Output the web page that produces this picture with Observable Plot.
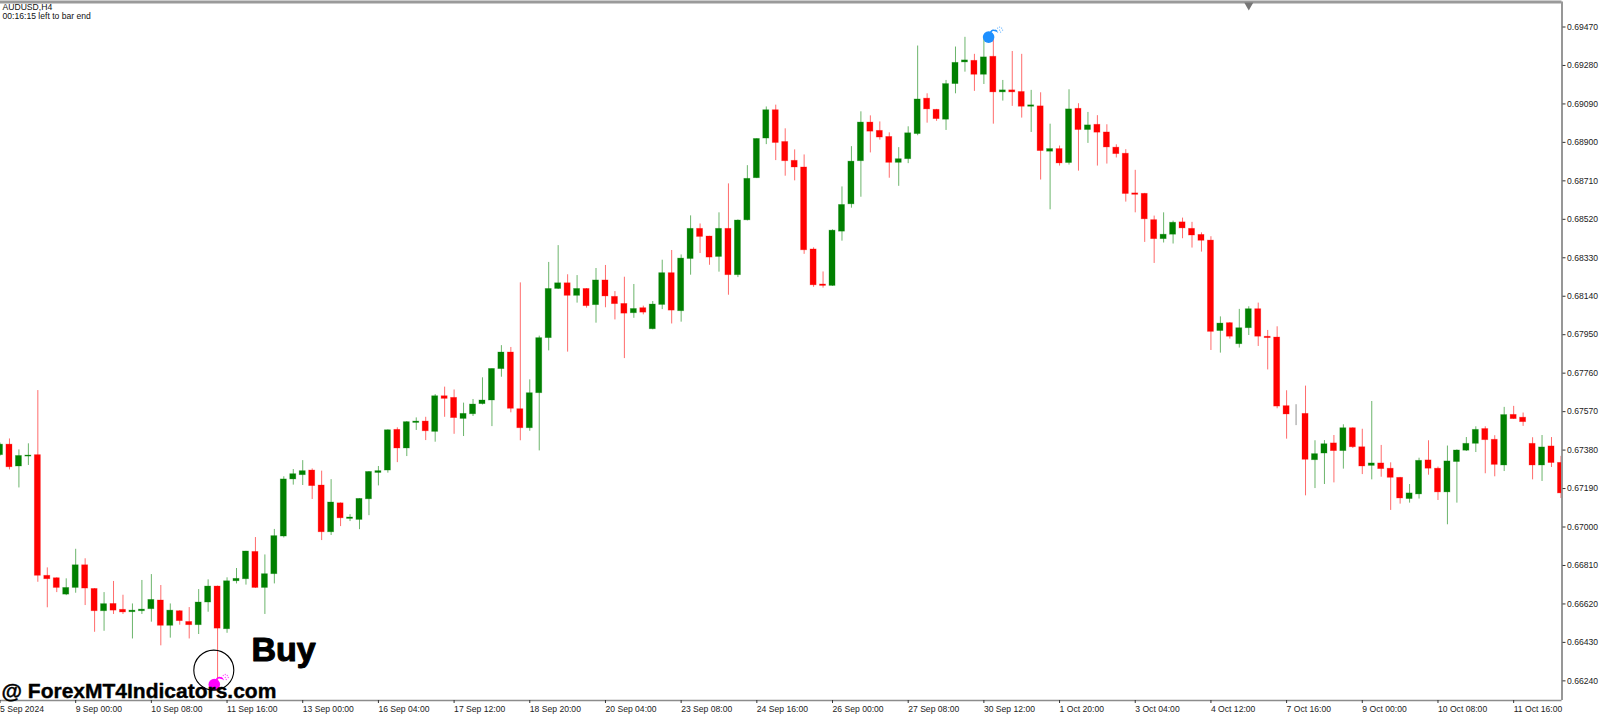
<!DOCTYPE html>
<html>
<head>
<meta charset="utf-8">
<script src="https://cdn.jsdelivr.net/npm/d3@7"></script>
<script src="https://cdn.jsdelivr.net/npm/@observablehq/plot@0.6"></script>
<style>html,body{margin:0;padding:0;background:#fff;overflow:hidden}svg{display:block}</style>
</head>
<body>
<div id="chart"></div>
<script>
// AUDUSD H4 candles, prices in points (1e-5)
const openPts = [67355,67407,67299,67348,67355,66759,66747,66666,66699,66811,
66694,66584,66620,66591,66579,66584,66594,66637,66512,66584,
66531,66515,66627,66706,66495,66732,66742,66877,66699,66767,
66953,67235,67256,67279,67205,66974,67117,67040,67035,67137,
67267,67279,67480,67388,67514,67521,67470,67646,67638,67534,
67557,67607,67625,67780,67862,67582,67488,67661,67933,68176,
68204,68142,68176,68096,68218,68137,68102,68056,68081,67977,
68097,68254,68066,68324,68473,68435,68334,68473,68244,68515,
68723,68919,69059,68902,68809,68776,68371,68198,68191,68459,
68594,68807,68998,68957,68927,68799,68817,68941,69116,69061,
69012,69188,69295,69303,69234,69323,69147,69157,69149,69076,
69078,68854,68867,68798,69066,68961,68987,68949,68874,68844,
68648,68646,68516,68422,68444,68505,68473,68443,68415,67968,
68007,67903,67982,68076,67940,67936,67597,67557,67559,67330,
67363,67413,67375,67488,67394,67302,67314,67288,67243,67138,
67161,67329,67288,67171,67321,67377,67411,67484,67431,67304,
67554,67540,67411,67304,67398,67317];
const closePts = [67407,67295,67351,67353,66759,66742,66699,66699,66811,66696,
66584,66619,66587,66578,66587,66592,66640,66512,66587,66535,
66515,66627,66706,66498,66732,66744,66879,66699,66767,66955,
67235,67261,67276,67202,66974,67121,67043,67047,67139,67272,
67276,67478,67388,67518,67521,67473,67646,67633,67538,67559,
67605,67625,67781,67862,67584,67488,67661,67933,68176,68204,
68142,68176,68091,68218,68139,68101,68054,68077,68059,68099,
68254,68069,68326,68473,68433,68331,68473,68244,68514,68720,
68917,69059,68897,68807,68776,68367,68194,68191,68464,68591,
68805,68998,68953,68924,68799,68817,68945,69112,69063,69015,
69188,69293,69305,69234,69320,69147,69157,69147,69076,69083,
68857,68867,68796,69063,68961,68984,68948,68875,68842,68645,
68641,68520,68422,68444,68503,68475,68440,68414,67964,68005,
67940,67982,68076,67940,67933,67595,67556,67557,67332,67360,
67409,67375,67488,67394,67299,67314,67286,67243,67141,67166,
67327,67288,67171,67324,67378,67411,67480,67429,67307,67553,
67533,67518,67304,67393,67316,67166];
const highPts = [67415,67435,67381,67411,67674,66798,66749,66744,66890,66843,
66696,66676,66731,66663,66620,66736,66765,66711,66620,66587,
66602,66691,66739,66708,66749,66795,66880,66948,66862,66988,
67248,67284,67328,67287,67276,67234,67119,67061,67140,67274,
67299,67480,67490,67521,67539,67542,67654,67691,67677,67612,
67630,67737,67781,67896,67887,68206,67727,67943,68307,68390,
68246,68242,68178,68277,68292,68163,68234,68198,68091,68114,
68318,68366,68344,68537,68497,68436,68552,68695,68517,68785,
68918,69075,69084,68967,68863,68838,68379,68260,68468,68680,
68879,69051,69031,69001,68947,68874,68977,69376,69140,69063,
69206,69371,69419,69335,69412,69425,69206,69349,69335,69157,
69145,68990,68882,69160,69091,69048,69032,68987,68888,68864,
68762,68648,68536,68552,68511,68526,68505,68453,68434,68038,
68010,68075,68088,68106,67971,67989,67673,67604,67696,67426,
67427,67452,67505,67490,67483,67620,67403,67317,67245,67210,
67340,67426,67296,67400,67381,67442,67495,67495,67451,67591,
67596,67563,67441,67452,67442,67349];
const lowPts = [67350,67282,67193,67304,66727,66601,66676,66661,66673,66612,
66480,66485,66568,66568,66447,66568,66530,66413,66451,66515,
66447,66469,66579,66233,66475,66719,66713,66697,66568,66719,
66946,67207,67205,67136,66933,66958,67002,67027,66987,67056,
67203,67266,67318,67348,67477,67427,67419,67542,67458,67447,
67546,67603,67496,67740,67564,67426,67473,67376,67870,68173,
67864,68106,68081,68007,68083,68023,67832,68031,68048,67974,
68074,68003,68012,68244,68351,68293,68259,68145,68232,68512,
68721,68889,68810,68733,68710,68347,68184,68180,68189,68412,
68575,68629,68848,68911,68723,68683,68795,68933,68995,69004,
68959,69140,69247,69152,69186,68990,69104,69078,69020,68949,
68714,68567,68783,68788,68758,68895,68783,68793,68823,68605,
68552,68406,68302,68403,68398,68424,68378,68358,67872,67859,
67928,67884,67946,67892,67776,67584,67434,67501,67154,67190,
67210,67218,67286,67388,67259,67233,67246,67082,67113,67118,
67138,67256,67131,67011,67118,67373,67368,67263,67248,67274,
67531,67497,67233,67225,67294,67141];

const yTickPts = [69470,69280,69090,68900,68710,68520,68330,68140,67950,67760,67570,67380,67190,67000,66810,66620,66430,66240];
const xTickIdx = [0,8,16,24,32,40,48,56,64,72,80,88,96,104,112,120,128,136,144,152,160];
const xTickLabels = ["5 Sep 2024","9 Sep 00:00","10 Sep 08:00","11 Sep 16:00","13 Sep 00:00","16 Sep 04:00","17 Sep 12:00","18 Sep 20:00","20 Sep 04:00","23 Sep 08:00","24 Sep 16:00","26 Sep 00:00","27 Sep 08:00","30 Sep 12:00","1 Oct 20:00","3 Oct 04:00","4 Oct 12:00","7 Oct 16:00","9 Oct 00:00","10 Oct 08:00","11 Oct 16:00"];

const headerLines = ["AUDUSD,H4", "00:16:15 left to bar end"];
const buyText = "Buy";
const watermark = "@ ForexMT4Indicators.com";
const buySignal = {idx: 22.65, pts: 66222};
const sellSignal = {idx: 104.5, pts: 69420};
const ringCentre = {idx: 22.6, pts: 66293};
const shiftMarker = {idx: 132, pts: 69578};

const p = v => v / 1e5;
const I = d3.range(openPts.length);
const upColor = "#008000", downColor = "#ff0000", flatColor = "#444";
const colorOf = i => closePts[i] > openPts[i] ? upColor : closePts[i] < openPts[i] ? downColor : flatColor;
const axisGrey = "#8c8c8c";
const font = "'Liberation Sans', Arial, sans-serif";

const xDomain = [0.0529, 165.11];
const yDomain = [p(66143), p(69593.5)];

function bomb(s, fill) {
  const fuse = [[0.15, 20], [0.42, 38], [0.85, 30]];
  const sparks = [[7,-7],[9,-9],[11,-7],[9,-5],[13,-9],[12,-5],[11,-10],[14,-7]];
  return [
    Plot.dot([s], {x: "idx", y: d => p(d.pts), r: 5.8, fill}),
    Plot.line(fuse, {x: d => s.idx + d[0], y: d => p(s.pts + d[1]), stroke: fill, strokeWidth: 1.6, curve: "basis"}),
    ...sparks.map(([dx, dy]) => Plot.dot([s], {x: "idx", y: d => p(d.pts), r: 0.65, fill, fillOpacity: 0.7, dx, dy}))
  ];
}

const chart = Plot.plot({
  width: 1600,
  height: 716,
  marginLeft: 0,
  marginRight: 38.5,
  marginTop: 1.5,
  marginBottom: 16,
  style: {fontFamily: font, fontSize: "8.6px", background: "#fff", color: "#222"},
  x: {type: "linear", domain: xDomain, axis: null},
  y: {type: "linear", domain: yDomain, axis: null},
  color: {type: "identity"},
  marks: [
    Plot.ruleX(I, {x: i => i, y1: i => p(lowPts[i]), y2: i => p(highPts[i]), stroke: colorOf, strokeOpacity: 0.58, strokeWidth: 1, clip: true}),
    Plot.rect(I, {x1: i => i - 0.32, x2: i => i + 0.32, y1: i => p(openPts[i]), y2: i => p(closePts[i]), fill: colorOf, stroke: colorOf, strokeOpacity: 0.35, strokeWidth: 0.8, clip: true}),
    Plot.ruleX([xDomain[1]], {stroke: axisGrey, strokeWidth: 1.8}),
    Plot.ruleY([yDomain[0]], {stroke: axisGrey, strokeWidth: 1.5}),
    Plot.ruleY([yDomain[1]], {stroke: "#9a9a9a", strokeWidth: 3}),
    Plot.dot([shiftMarker], {x: "idx", y: d => p(d.pts), symbol: "triangle", r: 3.4, rotate: 180, fill: "#777"}),
    Plot.axisY({anchor: "right", ticks: yTickPts.map(p), tickSize: 3, tickPadding: 2, tickFormat: d3.format(".5f"), label: null, stroke: "#333"}),
    Plot.axisX({anchor: "bottom", ticks: xTickIdx, tickSize: 3, tickPadding: 2, tickFormat: i => xTickLabels[xTickIdx.indexOf(i)], textAnchor: "start", label: null, stroke: "#333"}),
    ...bomb(sellSignal, "#1e90ff"),
    ...bomb(buySignal, "#ff00ff"),
    Plot.dot([ringCentre], {x: "idx", y: d => p(d.pts), r: 20, stroke: "#000", strokeWidth: 1.1, fill: "none"}),
    Plot.text([buyText], {text: d => d, frameAnchor: "top-left", dx: 251, dy: 648, textAnchor: "start", lineAnchor: "middle", fontSize: 34, fontWeight: "bold", fill: "#000", stroke: "#000", strokeWidth: 1.1}),
    Plot.text([watermark], {text: d => d, frameAnchor: "top-left", dx: 1, dy: 689.5, textAnchor: "start", lineAnchor: "middle", fontSize: 21, fontWeight: "bold", fill: "#000", stroke: "#000", strokeWidth: 0.4}),
    Plot.text([headerLines[0]], {text: d => d, frameAnchor: "top-left", dx: 2, dy: 5.5, textAnchor: "start", lineAnchor: "middle", fill: "#111"}),
    Plot.text([headerLines[1]], {text: d => d, frameAnchor: "top-left", dx: 2, dy: 14, textAnchor: "start", lineAnchor: "middle", fill: "#111"})
  ]
});
document.getElementById("chart").append(chart);
</script>
</body>
</html>
